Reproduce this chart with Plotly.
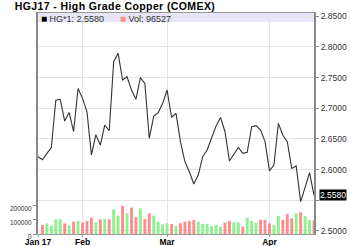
import plotly.graph_objects as go
import pandas as pd

# ---- data ----
dates = [d.strftime("%Y-%m-%d") for d in pd.bdate_range(
    "2017-01-18", periods=63, freq="C", holidays=["2017-02-20", "2017-04-14"])]

closes = [2.621, 2.616, 2.6265, 2.636, 2.713, 2.7145, 2.679, 2.693, 2.662, 2.732,
          2.716, 2.694, 2.624, 2.657, 2.640, 2.6726, 2.6633, 2.7757, 2.7894, 2.7459,
          2.7513, 2.7296, 2.7145, 2.7497, 2.7405, 2.651, 2.6873, 2.6927, 2.708, 2.7296,
          2.6853, 2.6917, 2.6455, 2.6129, 2.5966, 2.5765, 2.5912, 2.621, 2.632, 2.651,
          2.671, 2.685, 2.6617, 2.614, 2.6254, 2.636, 2.6265, 2.628, 2.67, 2.6715,
          2.6645, 2.6455, 2.598, 2.6075, 2.6754, 2.656, 2.6455, 2.602, 2.606, 2.5477,
          2.571, 2.595, 2.558]

volumes = [None,
           63500, 75000, 59000, 103500, 103500, 75000, 59000, 87000, 92000, 80000,
           92000, 115000, 82000, 103500, 106000, 103500, 174000, 129000, 198000, 146000,
           186000, 118000, 181000, 106000, 146000, 129000, 87000, 68000, 75000, 70600,
           56000, 75000, 87000, 92000, 99000, 87000, 70600, 70600, 56000, 63500,
           52000, 80000, 92000, 82000, 82000, 52000, 115000, 92000, 80000, 99000,
           99000, 75000, 63500, 127000, 99000, 141000, 110000, 146000, 153000, 127000,
           99000, 96527]

x_tick_idx = [0, 10, 29, 52]
x_tick_text = ["Jan 17", "Feb", "Mar", "Apr"]
price_ticks = [2.50, 2.55, 2.60, 2.65, 2.70, 2.75, 2.80, 2.85]
vol_ticks = [0, 100000, 200000]
title_text = "HGJ17 - High Grade Copper (COMEX)"
symbol = "HG*1"

UP = "#8ef08e"
DOWN = "#ff8c8c"
bar_colors = [UP] + [UP if closes[i] >= closes[i - 1] else DOWN for i in range(1, len(closes))]

fig = go.Figure()
fig.add_bar(x=dates, y=volumes, marker=dict(color=bar_colors, line=dict(width=0)),
            width=0.65, yaxis="y", hoverinfo="skip")
fig.add_scatter(x=dates, y=closes, mode="lines", line=dict(color="#333333", width=1.1),
                yaxis="y2")

FONT = "Liberation Sans, Arial, sans-serif"
grid = "#e4e4e4"

price_labels = ["" if abs(v - 2.55) < 1e-9 else f"{v:.4f}" for v in price_ticks]

fig.update_layout(
    width=350, height=246,
    margin=dict(l=38, r=36, t=13, b=12, autoexpand=False),
    paper_bgcolor="white", plot_bgcolor="white",
    showlegend=False,
    font=dict(family=FONT, size=8, color="#333333"),
    title=dict(text=f"<span style='letter-spacing:0.4px'>{title_text}</span>",
               xref="container", yref="container",
               x=115 / 350, xanchor="center", y=1 - 6.5 / 246, yanchor="middle",
               font=dict(family=FONT, size=10.5, color="black", weight="bold")),
    xaxis=dict(type="category", range=[0, 62], automargin=False,
               tickvals=[dates[i] for i in x_tick_idx], ticktext=x_tick_text,
               showgrid=True, gridcolor=grid, gridwidth=1,
               ticks="outside", ticklen=2, tickcolor="#999999", ticklabelstandoff=-2,
               showline=True, mirror=True, linecolor="#999999", linewidth=1,
               tickfont=dict(family=FONT, size=8.5, color="black", weight="bold")),
    yaxis=dict(side="left", range=[0, 1556000], tickvals=vol_ticks, tickformat="d",
               showgrid=False, zeroline=False, automargin=False,
               ticks="outside", ticklen=3, tickcolor="#888888", ticklabelshift=3,
               showline=True, linecolor="#888888", linewidth=2,
               tickfont=dict(family=FONT, size=6.5, color="#333333")),
    yaxis2=dict(overlaying="y", side="right", range=[2.4951, 2.8551], automargin=False,
                tickvals=price_ticks, ticktext=price_labels,
                showgrid=True, gridcolor=grid, gridwidth=1, zeroline=False,
                ticks="outside", ticklen=3, tickcolor="#888888",
                showline=True, linecolor="#888888", linewidth=2,
                tickfont=dict(family=FONT, size=8.5, color="#333333")),
    bargap=0.3,
)

# legend band
fig.add_shape(type="rect", xref="paper", yref="paper", x0=0, x1=1,
              y0=(234 - 22) / 221, y1=1, fillcolor="#e6e6f8", line=dict(width=0),
              layer="between")

leg_y = (234 - 18) / 221
fig.add_annotation(xref="paper", yref="paper", x=1 / 276, y=leg_y, xanchor="left",
                   yanchor="middle", showarrow=False,
                   text=f"<span style='color:black;font-size:10px'>■</span> {symbol}: {closes[-1]:.4f}",
                   font=dict(family=FONT, size=9, color="#333333"))
fig.add_annotation(xref="paper", yref="paper", x=80 / 276, y=leg_y, xanchor="left",
                   yanchor="middle", showarrow=False,
                   text=f"<span style='color:#ff8c8c;font-size:10px'>■</span> Vol: {volumes[-1]}",
                   font=dict(family=FONT, size=9, color="#333333"))

# last value box
fig.add_annotation(xref="paper", yref="y2", x=1, y=closes[-1], xanchor="left",
                   yanchor="middle", xshift=5, showarrow=False,
                   text=f"{closes[-1]:.4f}", bgcolor="black", borderpad=0,
                   font=dict(family=FONT, size=8.5, color="white"))

fig.write_html("out.html")
